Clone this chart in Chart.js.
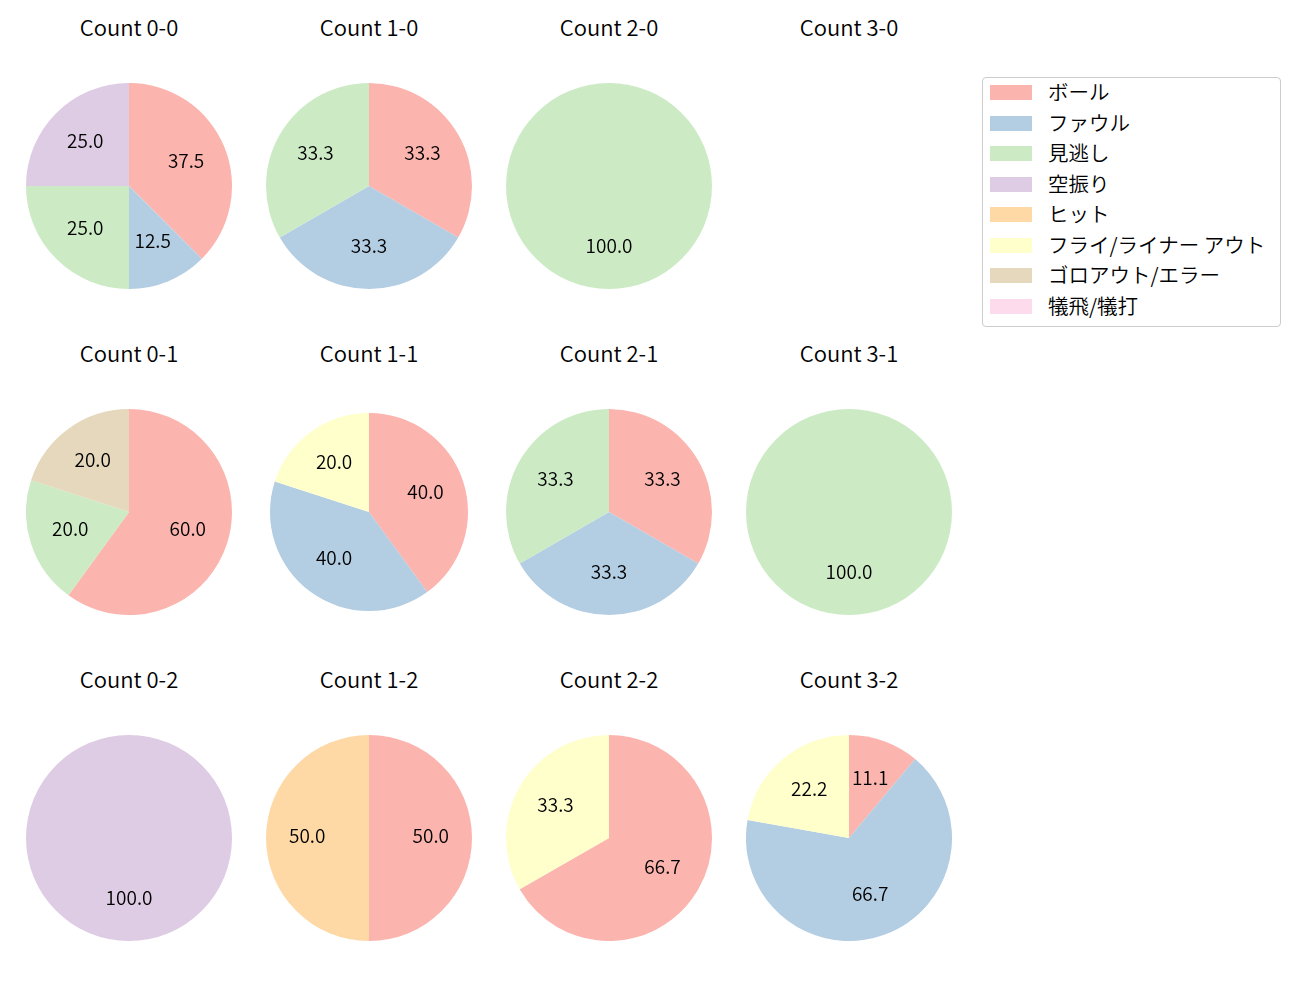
<!DOCTYPE html>
<html>
<head>
<meta charset="utf-8">
<script src="https://cdn.jsdelivr.net/npm/chart.js@4/dist/chart.umd.min.js"></script>
<style>
  html, body { margin: 0; padding: 0; background: #ffffff; }
  body { width: 1300px; height: 1000px; position: relative; overflow: hidden;
         font-family: "Noto Sans CJK JP", "Noto Sans", sans-serif; color: #000; }
  .title { position: absolute; width: 240px; text-align: center; font-size: 22px; font-weight: 350;
           line-height: 26px; transform: translate(-50%, -50%); white-space: nowrap; }
  canvas.pie { position: absolute; }
  #legend { position: absolute; left: 982px; top: 77px; width: 297px; height: 248px;
            border: 1px solid #cccccc; border-radius: 4px; box-sizing: content-box; }
  .lrow { position: absolute; left: 0; height: 30px; width: 297px; }
  .lbox { position: absolute; left: 7px; width: 42px; height: 15px; }
  .ltext { position: absolute; left: 65px; font-size: 20.5px; font-weight: 350; line-height: 30px; white-space: nowrap; }
</style>
</head>
<body>
<div id="legend"></div>
<script>
// ---- data ----
const categories = ['ボール', 'ファウル', '見逃し', '空振り', 'ヒット', 'フライ/ライナー アウト', 'ゴロアウト/エラー', '犠飛/犠打'];
const colors = ['#fbb4ae', '#b3cde3', '#ccebc5', '#decbe4', '#fed9a6', '#ffffcc', '#e5d8bd', '#fddaec'];
const countLabels = ['Count 0-0', 'Count 1-0', 'Count 2-0', 'Count 3-0',
                     'Count 0-1', 'Count 1-1', 'Count 2-1', 'Count 3-1',
                     'Count 0-2', 'Count 1-2', 'Count 2-2', 'Count 3-2'];
const count00 = [37.5, 12.5, 25.0, 25.0, 0, 0, 0, 0];
const count10 = [33.3, 33.3, 33.3, 0, 0, 0, 0, 0];
const count20 = [0, 0, 100.0, 0, 0, 0, 0, 0];
const count30 = [];
const count01 = [60.0, 0, 20.0, 0, 0, 0, 20.0, 0];
const count11 = [40.0, 40.0, 0, 0, 0, 20.0, 0, 0];
const count21 = [33.3, 33.3, 33.3, 0, 0, 0, 0, 0];
const count31 = [0, 0, 100.0, 0, 0, 0, 0, 0];
const count02 = [0, 0, 0, 100.0, 0, 0, 0, 0];
const count12 = [50.0, 0, 0, 0, 50.0, 0, 0, 0];
const count22 = [66.7, 0, 0, 0, 0, 33.3, 0, 0];
const count32 = [11.1, 66.7, 0, 0, 0, 22.2, 0, 0];
const countValues = [count00, count10, count20, count30,
                     count01, count11, count21, count31,
                     count02, count12, count22, count32];

// ---- layout (not data) ----
const colCenters = [129, 369, 609, 849];
const rowCenters = [186, 512, 838];
const titleOffset = 160;
const radii = [103, 103, 103, 103, 103, 99, 103, 103, 103, 103, 103, 103];

const pctLabels = {
  id: 'pctLabels',
  afterDatasetsDraw(chart) {
    const ctx = chart.ctx;
    const ds = chart.data.datasets[0];
    const total = ds.data.reduce((a, b) => a + b, 0);
    const meta = chart.getDatasetMeta(0);
    ctx.save();
    ctx.fillStyle = '#000';
    ctx.font = '350 19px "Noto Sans CJK JP", "Noto Sans", sans-serif';
    ctx.textAlign = 'center';
    ctx.textBaseline = 'middle';
    meta.data.forEach((arc, i) => {
      const v = ds.data[i];
      if (!v) return;
      const p = arc.getProps(['x', 'y', 'startAngle', 'endAngle', 'outerRadius'], true);
      const mid = (p.startAngle + p.endAngle) / 2;
      const r = p.outerRadius * 0.6;
      ctx.fillText((v / total * 100).toFixed(1), p.x + Math.cos(mid) * r, p.y + Math.sin(mid) * r - 2);
    });
    ctx.restore();
  }
};

countLabels.forEach((title, idx) => {
  const col = idx % 4, row = Math.floor(idx / 4);
  const cx = colCenters[col], cy = rowCenters[row];
  const t = document.createElement('div');
  t.className = 'title';
  t.textContent = title;
  t.style.left = cx + 'px';
  t.style.top = (cy - titleOffset) + 'px';
  document.body.appendChild(t);
  const vals = countValues[idx];
  if (!vals.length) return;
  const r = radii[idx];
  const cv = document.createElement('canvas');
  cv.className = 'pie';
  cv.width = 2 * r; cv.height = 2 * r;
  cv.style.width = 2 * r + 'px'; cv.style.height = 2 * r + 'px';
  cv.style.left = (cx - r) + 'px'; cv.style.top = (cy - r) + 'px';
  document.body.appendChild(cv);
  new Chart(cv, {
    type: 'pie',
    data: { labels: categories, datasets: [{ data: vals, backgroundColor: colors, borderWidth: 0 }] },
    options: {
      responsive: false, animation: false, devicePixelRatio: 1,
      layout: { padding: 0 },
      plugins: { legend: { display: false }, tooltip: { enabled: false } }
    },
    plugins: [pctLabels]
  });
});

// legend (HTML)
const legend = document.getElementById('legend');
categories.forEach((c, i) => {
  const row = document.createElement('div');
  row.className = 'lrow';
  row.style.top = (i * 30.5 - 2) + 'px';
  const box = document.createElement('div');
  box.className = 'lbox';
  box.style.background = colors[i];
  box.style.top = '9px';
  const tx = document.createElement('div');
  tx.className = 'ltext';
  tx.textContent = c;
  row.appendChild(box); row.appendChild(tx);
  legend.appendChild(row);
});
</script>
</body>
</html>
